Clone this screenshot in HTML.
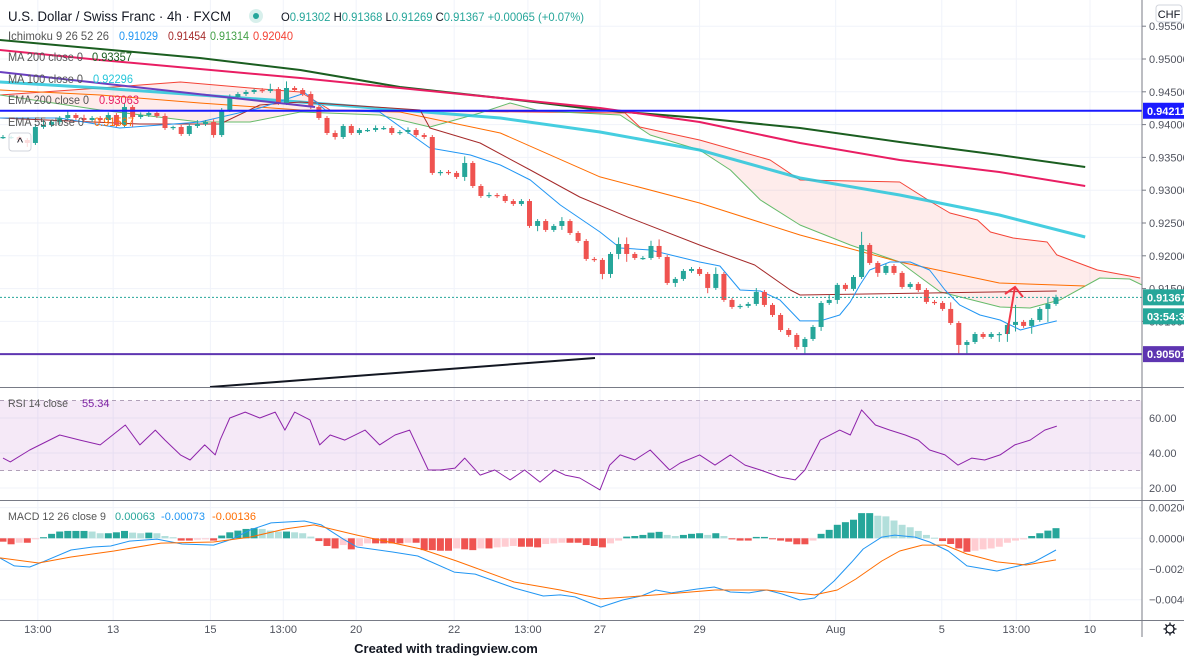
<!DOCTYPE html>
<html><head><meta charset="utf-8">
<style>
html,body{margin:0;padding:0;background:#fff;width:1184px;height:659px;overflow:hidden}
svg{display:block;font-family:"Liberation Sans",sans-serif}
</style></head>
<body>
<svg id="chart" width="1184" height="659" viewBox="0 0 1184 659" xmlns="http://www.w3.org/2000/svg">
<defs>
<clipPath id="clipMain"><rect x="0" y="0" width="1142" height="387"/></clipPath>
<clipPath id="clipRsi"><rect x="0" y="388" width="1142" height="112"/></clipPath>
<clipPath id="clipMacd"><rect x="0" y="501" width="1142" height="119"/></clipPath>
</defs>
<g id="grid"></g>
<g id="cloud" clip-path="url(#clipMain)"></g>
<g id="lines" clip-path="url(#clipMain)"></g>
<g id="candles" clip-path="url(#clipMain)"></g>
<g id="drawings" clip-path="url(#clipMain)"></g>
<g id="rsi" clip-path="url(#clipRsi)"></g>
<g id="macd" clip-path="url(#clipMacd)"></g>
<g id="axes"></g>
<g id="legend" font-size="12">
<text x="8" y="21" font-size="13.5" fill="#131722" textLength="223" lengthAdjust="spacingAndGlyphs">U.S. Dollar / Swiss Franc · 4h · FXCM</text>
<circle cx="256" cy="16" r="7" fill="#d8f0ec"/>
<circle cx="256" cy="16" r="3" fill="#26a69a"/>
<text x="281" y="21" font-size="12" fill="#26a69a" textLength="303" lengthAdjust="spacingAndGlyphs"><tspan fill="#131722">O</tspan>0.91302 <tspan fill="#131722">H</tspan>0.91368 <tspan fill="#131722">L</tspan>0.91269 <tspan fill="#131722">C</tspan>0.91367 +0.00065 (+0.07%)</text>

<text x="8" y="40" fill="#555" textLength="101" lengthAdjust="spacingAndGlyphs">Ichimoku 9 26 52 26</text>
<text x="119" y="40" fill="#2196f3" textLength="39" lengthAdjust="spacingAndGlyphs">0.91029</text>
<text x="168" y="40" fill="#a52a2a" textLength="38" lengthAdjust="spacingAndGlyphs">0.91454</text>
<text x="210" y="40" fill="#43a047" textLength="39" lengthAdjust="spacingAndGlyphs">0.91314</text>
<text x="253" y="40" fill="#f44336" textLength="40" lengthAdjust="spacingAndGlyphs">0.92040</text>

<text x="8" y="61" fill="#555" textLength="75" lengthAdjust="spacingAndGlyphs">MA 200 close 0</text>
<text x="92" y="61" fill="#1b5e20" textLength="40" lengthAdjust="spacingAndGlyphs">0.93357</text>
<text x="8" y="83" fill="#555" textLength="75" lengthAdjust="spacingAndGlyphs">MA 100 close 0</text>
<text x="93" y="83" fill="#26c6da" textLength="40" lengthAdjust="spacingAndGlyphs">0.92296</text>
<text x="8" y="104" fill="#555" textLength="81" lengthAdjust="spacingAndGlyphs">EMA 200 close 0</text>
<text x="99" y="104" fill="#e91e63" textLength="40" lengthAdjust="spacingAndGlyphs">0.93063</text>
<text x="8" y="126" fill="#555" textLength="76" lengthAdjust="spacingAndGlyphs">EMA 55 close 0</text>
<text x="94" y="126" fill="#ff6d00" textLength="40" lengthAdjust="spacingAndGlyphs">0.91537</text>

<rect x="9" y="133" width="22" height="18" rx="3" fill="#fff" fill-opacity="0.8" stroke="#d1d4dc"/>
<text x="20" y="147" font-size="13" text-anchor="middle" fill="#131722">^</text>

<text x="8" y="407" font-size="11" fill="#555" textLength="60" lengthAdjust="spacingAndGlyphs">RSI 14 close</text>
<text x="82" y="407" font-size="11" fill="#7b1fa2">55.34</text>
<text x="8" y="520" font-size="11" fill="#555" textLength="98" lengthAdjust="spacingAndGlyphs">MACD 12 26 close 9</text>
<text x="115" y="520" font-size="11" fill="#26a69a" textLength="40">0.00063</text>
<text x="161" y="520" font-size="11" fill="#2196f3" textLength="44">-0.00073</text>
<text x="212" y="520" font-size="11" fill="#ff6d00" textLength="44">-0.00136</text>
<text x="446" y="653" font-size="13" font-weight="bold" text-anchor="middle" fill="#131722">Created with tradingview.com</text>
</g>
</svg>
<script>
// ---------- DATA ----------
const firstOpen = 0.93811;
const closes = [0.93811,0.93811,0.93765,0.93720,0.93964,0.93994,0.94040,0.94101,0.94146,0.94101,
0.94070,0.94101,0.94070,0.94146,0.93994,0.94268,0.94116,0.94146,0.94177,0.94131,
0.93948,0.93964,0.93857,0.93979,0.94009,0.94040,0.93841,0.94223,0.94421,0.94466,
0.94497,0.94527,0.94512,0.94543,0.94329,0.94558,0.94527,0.94466,0.94268,0.94101,
0.93872,0.93811,0.93979,0.93872,0.93918,0.93918,0.93948,0.93948,0.93872,0.93887,
0.93918,0.93841,0.93811,0.93263,0.93278,0.93263,0.93202,0.93415,0.93064,0.92912,
0.92927,0.92912,0.92835,0.92790,0.92835,0.92455,0.92530,0.92394,0.92455,0.92530,
0.92348,0.92226,0.91952,0.91937,0.91723,0.92028,0.92180,0.92028,0.91967,0.91967,
0.92150,0.91982,0.91586,0.91647,0.91769,0.91799,0.91723,0.91510,0.91723,0.91327,
0.91220,0.91236,0.91266,0.91449,0.91251,0.91098,0.90869,0.90793,0.90610,0.90732,
0.90915,0.91281,0.91327,0.91556,0.91495,0.91677,0.92165,0.91891,0.91739,0.91845,
0.91739,0.91525,0.91571,0.91479,0.91297,0.91281,0.91190,0.90976,0.90641,0.90686,
0.90808,0.90763,0.90808,0.90808,0.90946,0.90992,0.90931,0.91022,0.91190,0.91266,
0.91367];
const wickUp = [3,2,2,3,4,8,3,3,6,3, 5,3,3,4,3,6,3,4,3,3, 4,2,3,4,6,3,4,3,4,3, 3,2,3,8,3,10,3,3,4,3,
3,4,3,3,3,3,4,3,3,3, 4,3,3,3,3,3,3,10,3,3, 4,3,3,3,3,3,3,3,3,6, 3,3,3,3,3,3,10,10,3,3,
8,10,3,3,3,3,3,3,10,3, 3,3,3,6,3,3,3,3,3,3, 3,3,8,3,3,3,20,3,3,3, 3,3,3,3,3,3,3,10,3,3,
3,3,3,3,3,26,3,3,3,10, 4];
const wickDn = [3,3,3,6,3,3,3,4,3,3, 3,3,3,3,3,3,15,3,3,3, 3,3,3,3,3,3,4,3,3,3, 3,3,3,3,3,3,3,3,3,3,
3,4,3,3,3,3,3,3,3,3, 3,3,3,3,4,3,3,6,3,3, 3,3,3,3,3,3,8,3,3,6, 3,3,3,3,8,6,8,12,3,3,
3,3,3,6,3,3,3,8,3,3, 3,3,3,3,3,3,3,3,4,10, 3,6,3,6,3,3,3,3,6,3, 3,3,3,3,3,3,3,3,15,15,
3,3,3,12,12,10,3,12,3,20, 3];

const ma200 = [[-0.4,0.95289],[12,0.95152],[24.3,0.95015],[36.7,0.94832],[49,0.94573],[61.4,0.94405],[73.7,0.94223],[86,0.94101],[98.4,0.93948],[110.7,0.93735],[123,0.93537],[133.6,0.93354]];
const ema200 = [[-0.4,0.95137],[12,0.94985],[24.3,0.94847],[36.7,0.94710],[49,0.94558],[61.4,0.94405],[73.7,0.94253],[86,0.94040],[98.4,0.93720],[110.7,0.93461],[123,0.93278],[133.6,0.93064]];
const ma100 = [[-0.4,0.94649],[12,0.94558],[24.3,0.94451],[36.7,0.94344],[49,0.94223],[61.4,0.94101],[73.7,0.93887],[86,0.93613],[98.4,0.93186],[110.7,0.92927],[123,0.92622],[133.6,0.92287]];
const ema55 = [[-0.4,0.94527],[12,0.94451],[24.3,0.94329],[36.7,0.94223],[49,0.94192],[61.4,0.93872],[73.7,0.93202],[86,0.92805],[98.4,0.92317],[110.7,0.91906],[123,0.91586],[133.6,0.91540]];
const tenkan = [[-0.4,0.94101],[7,0.94101],[14.4,0.93948],[24.3,0.94040],[31.7,0.94253],[37.3,0.94482],[39.8,0.94223],[46.5,0.94192],[52.7,0.93643],[57.7,0.93537],[61.4,0.93384],[65.1,0.93156],[68.8,0.92775],[73.7,0.92363],[76.2,0.92119],[79.9,0.92089],[86,0.91906],[88.5,0.91845],[91,0.91479],[93.5,0.91464],[95.9,0.91327],[98.4,0.91007],[100.9,0.91007],[103.3,0.91098],[104.6,0.91297],[105.8,0.91556],[107,0.91784],[109.5,0.91906],[112,0.91906],[114.4,0.91784],[116.3,0.91479],[118.1,0.91251],[120.6,0.91098],[123.1,0.91022],[125.6,0.90869],[128,0.90946],[130.1,0.91007]];
const kijun = [[-0.4,0.94101],[16.9,0.94009],[26.8,0.94009],[31.7,0.94299],[36.7,0.94345],[51.5,0.94223],[52.7,0.93948],[58.9,0.93720],[65.1,0.93308],[71.2,0.92897],[77.4,0.92577],[86,0.92165],[92.8,0.91860],[97.2,0.91479],[98.4,0.91403],[130.1,0.91464]];
const spanA = [[-0.4,0.94451],[12,0.94223],[24.3,0.94040],[30.5,0.94040],[36.7,0.94192],[46.5,0.94146],[52.7,0.93964],[58.9,0.94177],[62.6,0.94329],[66.3,0.94207],[76.2,0.94146],[79.9,0.93841],[86,0.93613],[89.8,0.93308],[93.5,0.92851],[98.4,0.92470],[104.6,0.92165],[110.7,0.91906],[115.7,0.91449],[123.1,0.91220],[126.8,0.91205],[130.5,0.91327],[135.4,0.91662],[139.1,0.91647],[140.6,0.91556]];
const spanB = [[-0.4,0.94451],[12,0.94558],[21.9,0.94649],[30.5,0.94558],[36.7,0.94497],[40.4,0.94223],[76.8,0.94177],[78.6,0.93964],[86,0.93765],[94.7,0.93461],[98.4,0.93156],[110.7,0.93125],[114.8,0.92805],[116.9,0.92653],[120.3,0.92546],[121.9,0.92363],[124.7,0.92272],[128.9,0.92211],[130.1,0.92013],[135.1,0.91784],[140.4,0.91662]];
const levelBlue = 0.94211, levelPurple = 0.90501, lastPrice = 0.91367;
const rsiBars = [0,0.9,3.3,7,9.5,12,15.1,16.9,18.8,20,21.9,23.1,24.9,26.2,26.8,28,29.9,31.7,33.6,34.8,36,37.9,39.1,40.4,42.2,44.7,46.5,48.4,50.2,52.5,54,55.8,57,58.9,60.7,62.6,64.4,66.3,68.1,69.4,71.2,73.7,74.9,76.2,78,79.9,81.1,82.3,83.6,86,87.9,89.8,91.6,93.5,95.9,97.8,99,100.9,103.3,104.6,106,107.7,109.5,111.4,113,114.4,116.3,117.9,119.6,121.2,123.1,124.9,126.8,128.6,130.1];
const rsiVals = [37.1,34.9,41.7,50.3,47.4,44.6,56.0,44.6,53.1,47.4,38.9,36.0,44.6,38.9,47.4,60.0,63.4,60.0,63.4,53.1,63.4,58.9,44.6,50.3,47.4,53.1,44.6,50.3,53.1,30.3,30.3,31.4,37.1,27.4,30.3,24.6,30.3,23.4,30.3,27.4,25.7,18.9,33.1,38.9,36.0,41.7,36.0,30.3,34.3,38.9,33.1,38.9,33.1,30.3,26.3,24.6,30.3,47.4,53.1,50.3,64.6,56.0,53.1,50.3,47.4,41.7,38.9,33.1,37.1,36.0,38.9,44.6,47.4,53.1,55.4];
const macdHist = [-2.2,-3.9,-2.9,-2.9,-0.2,0.7,2.9,4.4,4.8,4.8, 4.8,4.4,3.3,3.3,3.9,4.8,3.7,3.3,3.7,3.3,
1.5,0.7,-1.5,-1.5,-0.9,-0.7,-1.5,1.8,3.9,5.0, 6.1,6.6,6.1,5.0,4.4,4.4,3.9,3.3,1.1,-1.8,
-5.0,-6.6,-4.4,-7.2,-5.0,-3.3,-3.3,-3.3,-3.3,-3.3, -2.9,-2.9,-7.7,-7.7,-8.1,-8.1,-6.6,-7.2,-7.7,-6.6,
-6.6,-5.9,-5.5,-5.0,-5.5,-5.5,-5.9,-3.7,-3.3,-2.9, -2.9,-2.9,-4.4,-5.0,-5.9,-3.3,-1.5,1.1,1.5,2.2,
3.7,4.2,2.2,1.5,2.2,2.9,3.3,2.2,3.3,1.5, -0.7,-1.5,-1.5,0.9,0.9,-0.2,-1.5,-2.2,-3.9,-3.9,
-1.5,2.9,5.5,8.8,10.5,12.1,16.4,16.4,14.7,14.3, 11.6,8.8,7.2,4.8,2.2,0.4,-1.8,-3.7,-6.6,-8.8,
-8.1,-7.2,-6.6,-5.5,-2.9,-1.5,-0.7,1.5,3.3,5.0, 6.6];
const macdLine = [[-0.4,-0.00128],[1.4,-0.00180],[3.3,-0.00187],[4.9,-0.00154],[8.4,-0.00076],[11.1,-0.00057],[13.3,-0.00050],[15.6,-0.00018],[19,-0.00005],[22.1,-0.00037],[26,-0.00044],[28.3,-0.00005],[30.5,0.00054],[33.1,0.00100],[37.2,0.00113],[39.3,0.00087],[42,-0.00005],[43.7,-0.00057],[48.1,-0.00089],[51.2,-0.00115],[52.6,-0.00148],[55.7,-0.00220],[58.3,-0.00233],[63.1,-0.00324],[66.7,-0.00376],[68.8,-0.00369],[70.6,-0.00382],[73.8,-0.00448],[76.5,-0.00402],[78.8,-0.00376],[80.6,-0.00337],[82.5,-0.00356],[85.7,-0.00330],[87.8,-0.00317],[89.8,-0.00350],[92.1,-0.00356],[94.3,-0.00337],[96.2,-0.00363],[98.4,-0.00402],[100.2,-0.00389],[102.6,-0.00278],[104.8,-0.00154],[106.2,-0.00070],[108.5,0.00008],[110.1,0.00021],[112.6,0.00008],[114.4,-0.00024],[116.7,-0.00083],[119,-0.00180],[122.7,-0.00213],[125.4,-0.00180],[127.3,-0.00154],[130,-0.00076]];
const signalLine = [[-0.4,-0.00128],[4.4,-0.00161],[8.4,-0.00122],[13.7,-0.00083],[19.5,-0.00031],[26,-0.00024],[30.5,0.00008],[34.9,0.00061],[38.4,0.00087],[43.7,0.00021],[51.6,-0.00070],[56,-0.00148],[63.1,-0.00285],[68.8,-0.00337],[73.8,-0.00395],[80.6,-0.00369],[87.9,-0.00337],[94.3,-0.00337],[100.2,-0.00369],[103,-0.00337],[105.3,-0.00265],[108.5,-0.00148],[110.7,-0.00083],[113.5,-0.00044],[116.3,-0.00044],[119,-0.00102],[122.7,-0.00154],[126.3,-0.00174],[130,-0.00141]];
const priceTicks = [0.955,0.950,0.945,0.940,0.935,0.930,0.925,0.920,0.915,0.910];
const priceTickLabels = ["0.95500","0.95000","0.94500","0.94000","0.93500","0.93000","0.92500","0.92000","0.91500","0.91000"];
const rsiTicks = [60,40,20];
const macdTicks = [0.002,0,-0.002,-0.004];
const macdTickLabels = ["0.00200","0.00000","\u22120.00200","\u22120.00400"];
const timeBars = [4.3,13.6,25.6,34.6,43.6,55.7,64.8,73.7,86,102.8,115.9,125.1,134.2];
const timeLabels = ["13:00","13","15","13:00","20","22","13:00","27","29","Aug","5","13:00","10"];

const X = b => 3 + 8.1*b;
const Y = p => 59 + (0.95 - p)/0.005*32.8;
const YR = v => 418 + (60 - v)*1.75;
const YM = v => 538.3 - v*15350;
const NS = "http://www.w3.org/2000/svg";
function mk(tag, attrs, parent){const e=document.createElementNS(NS,tag);for(const k in attrs)e.setAttribute(k,attrs[k]);parent.appendChild(e);return e;}
const path = (pts, fx, fy) => pts.map((p,i)=>(i?'L':'M')+fx(p[0]).toFixed(1)+' '+fy(p[1]).toFixed(1)).join(' ');
const g = id => document.getElementById(id);

const grid = g('grid');
priceTicks.forEach(p=>{const l=mk('line',{x1:0,x2:1142,y1:Y(p),y2:Y(p),stroke:'#f0f3fa'},grid);

});
rsiTicks.forEach(v=>{const l=mk('line',{x1:0,x2:1142,y1:YR(v),y2:YR(v),stroke:'#f0f3fa'},grid);

});
macdTicks.forEach(v=>{const l=mk('line',{x1:0,x2:1142,y1:YM(v),y2:YM(v),stroke:'#f0f3fa'},grid);

});
timeBars.forEach(b=>{const l=mk('line',{x1:X(b),x2:X(b),y1:0,y2:620,stroke:'#f0f3fa'},grid);

});

const cloudPts = spanA.map(p=>[p[0],p[1]]).concat(spanB.slice().reverse());
const cl = mk('path',{d:path(cloudPts,X,Y)+' Z',fill:'#f44336','fill-opacity':0.1,stroke:'none'},g('cloud'));



const L = g('lines');
function line(pts, color, w, name, parent, fy){const e=mk('path',{d:path(pts,X,fy||Y),fill:'none',stroke:color,'stroke-width':w,'stroke-linejoin':'round'},parent||L);


return e;}
line(spanB,'#f44336',1,'senkou-span-b');
line(spanA,'#66bb6a',1,'senkou-span-a');
line(ma200,'#1b5e20',2,'ma200-line');
line(ema200,'#e91e63',2,'ema200-line');
const m100 = line(ma100,'#26c6da',3,'ma100-line'); m100.setAttribute('stroke-opacity','0.85');
line(ema55,'#ff6d00',1,'ema55-line');
line(kijun,'#a52a2a',1,'kijun-sen');
line(tenkan,'#2196f3',1,'tenkan-sen');

const C = g('candles');
closes.forEach((c,i)=>{
  const o = i ? closes[i-1] : firstOpen;
  const up = c >= o, col = up ? '#26a69a' : '#ef5350';
  const hi = Math.max(o,c) + (wickUp[i]||3)*1e-4, lo = Math.min(o,c) - (wickDn[i]||3)*1e-4;
  const x = X(i);
  const w = mk('line',{x1:x,x2:x,y1:Y(hi),y2:Y(lo),stroke:col,'stroke-width':1},C);
  
  
  const yt = Y(Math.max(o,c)), h = Math.max(1.2, Math.abs(Y(o)-Y(c)));
  const r = mk('rect',{x:x-2.5,y:yt,width:5,height:h,fill:col},C);
  
  
});

const D = g('drawings');
const d1 = mk('line',{x1:0,x2:1142,y1:Y(levelBlue),y2:Y(levelBlue),stroke:'#1a1aff','stroke-width':2},D);


const d2 = mk('line',{x1:0,x2:1142,y1:Y(levelPurple),y2:Y(levelPurple),stroke:'#5e35b1','stroke-width':2},D);


const d3 = mk('line',{x1:0,x2:1142,y1:Y(lastPrice),y2:Y(lastPrice),stroke:'#26a69a','stroke-width':1,'stroke-dasharray':'2 2'},D);


const d4 = mk('line',{x1:0,y1:72,x2:315,y2:107,stroke:'#6a3fc0','stroke-width':2},D);


const d5 = mk('line',{x1:210,y1:387,x2:595,y2:358,stroke:'#131722','stroke-width':2},D);


const d6 = mk('path',{d:'M1007 334 L1015 287 M1005 294 L1015 287 L1023 297',fill:'none',stroke:'#f23645','stroke-width':2},D);



const R = g('rsi');
const band = mk('rect',{x:0,y:YR(70),width:1142,height:YR(30)-YR(70),fill:'#9c27b0','fill-opacity':0.1},R);


[70,30].forEach(v=>{const l=mk('line',{x1:0,x2:1142,y1:YR(v),y2:YR(v),stroke:'#b0a0b8','stroke-dasharray':'4 4'},R);

});
line(rsiBars.map((b,i)=>[b,rsiVals[i]]),'#8e24aa',1,'rsi-line',R,YR);

const M = g('macd');
macdHist.forEach((v,i)=>{
  const prev = i ? macdHist[i-1] : v;
  let col;
  if (v >= 0) col = v >= prev ? '#26a69a' : '#b2dfdb'; else col = v <= prev ? '#ef5350' : '#ffcdd2';
  const y0 = YM(0), y1 = YM(v*1e-4);
  const r = mk('rect',{x:X(i)-3.5,y:Math.min(y0,y1),width:7,height:Math.max(1,Math.abs(y1-y0)),fill:col},M);
  
  
});
line(macdLine,'#2196f3',1,'macd-line',M,YM);
line(signalLine,'#ff6d00',1,'signal-line',M,YM);

const A = g('axes');
function txt(x,y,s,attrs,name,parent){const t=mk('text',Object.assign({x:x,y:y,'font-size':11,fill:'#50535e'},attrs||{}),parent||A);t.textContent=s;

return t;}
[[1142,0,1142,637],[0,387.5,1184,387.5],[0,500.5,1184,500.5],[0,620.5,1184,620.5]].forEach(s=>{
  const l=mk('line',{x1:s[0],y1:s[1],x2:s[2],y2:s[3],stroke:'#787b86','stroke-width':1},A);
  
  
});
priceTicks.forEach((p,i)=>{
  const tk=mk('line',{x1:1142,x2:1146,y1:Y(p),y2:Y(p),stroke:'#787b86'},A);
  
  
  txt(1149,Y(p)+4,priceTickLabels[i],{},'price-tick-label');
});
rsiTicks.forEach(v=>{txt(1149,YR(v)+4,v.toFixed(2),{},'rsi-tick-label');});
macdTicks.forEach((v,i)=>{txt(1149,YM(v)+4,macdTickLabels[i],{},'macd-tick-label');});
timeBars.forEach((b,i)=>{txt(X(b),633,timeLabels[i],{'text-anchor':'middle'},'time-tick-label');});
function tag(p,fill,label,name,y){
  const yy = y!==undefined ? y : Y(p);
  const r=mk('rect',{x:1143,y:yy-8,width:41,height:16,fill:fill},A);
  
  
  txt(1147,yy+4,label,{fill:'#fff','font-weight':'bold'},name+'-text');
}
tag(levelBlue,'#1a1aff','0.94211','resistance-price-tag');
tag(lastPrice,'#26a69a','0.91367','last-price-tag');
tag(lastPrice,'#26a69a','03:54:35','countdown-tag',Y(lastPrice)+19);
tag(levelPurple,'#5e35b1','0.90501','support-price-tag');
const chf=mk('rect',{x:1156,y:5,width:26,height:17,rx:3,fill:'#fff',stroke:'#d1d4dc'},A);


txt(1169,18,'CHF',{'text-anchor':'middle',fill:'#131722'},'currency-label');
const gear=mk('g',{transform:'translate(1170,629)'},A);


mk('circle',{cx:0,cy:0,r:4,fill:'none',stroke:'#131722','stroke-width':1.3},gear);
for(let k=0;k<8;k++){const a=k*Math.PI/4;mk('line',{x1:4*Math.cos(a),y1:4*Math.sin(a),x2:6.5*Math.cos(a),y2:6.5*Math.sin(a),stroke:'#131722','stroke-width':1.3},gear);}
</script>
</body></html>
